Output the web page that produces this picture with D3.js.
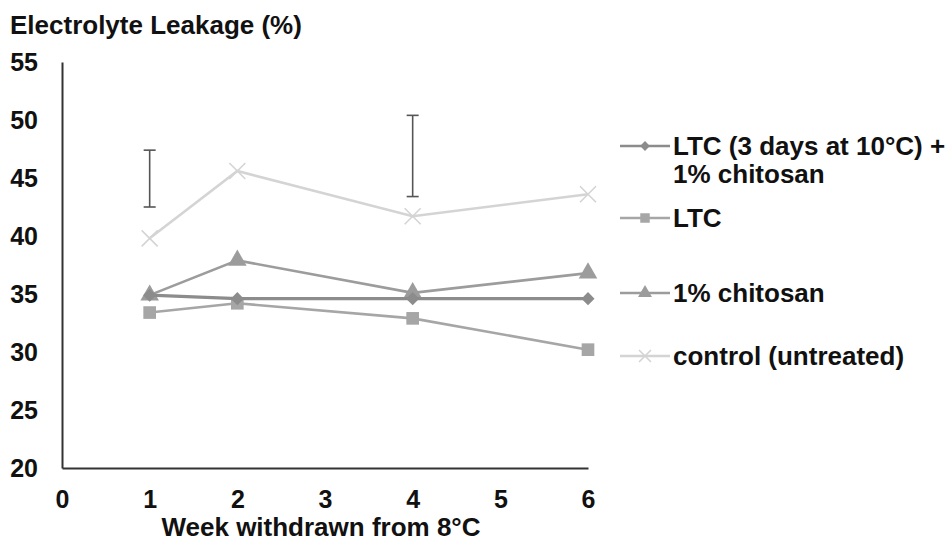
<!DOCTYPE html>
<html>
<head>
<meta charset="utf-8">
<script src="https://cdn.jsdelivr.net/npm/d3@7"></script>
<style>
  body { margin: 0; background: #fff; }
  svg text { font-family: "Liberation Sans", Arial, sans-serif; font-weight: bold; fill: #111; }
</style>
</head>
<body>
<svg id="chart" width="952" height="541"></svg>
<script>
// dati
const weeks = [1, 2, 4, 6]
const ltcChitosan = [34.9, 34.6, 34.6, 34.6]
const ltc = [33.4, 34.2, 32.9, 30.2]
const chitosan = [34.9, 37.9, 35.1, 36.8]
const control = [39.8, 45.6, 41.7, 43.6]
const errWeeks = [1, 4]
const errLow = [42.5, 43.4]
const errHigh = [47.4, 50.4]
const xTicks = [0, 1, 2, 3, 4, 5, 6]
const yTicks = [20, 25, 30, 35, 40, 45, 50, 55]

const series = [
  { name: ['LTC (3 days at 10°C) +', '1% chitosan'], values: ltcChitosan, color: '#8c8c8c', width: 3.4, symbol: 'diamond', legendY: 146 },
  { name: ['LTC'], values: ltc, color: '#a6a6a6', width: 2.6, symbol: 'square', legendY: 218 },
  { name: ['1% chitosan'], values: chitosan, color: '#9c9c9c', width: 2.6, symbol: 'triangle', legendY: 293 },
  { name: ['control (untreated)'], values: control, color: '#d4d4d4', width: 2.6, symbol: 'cross', legendY: 356 }
]

const svg = d3.select('#chart')

const xScale = d3.scaleLinear().domain([0, 6]).range([62, 588])
const yScale = d3.scaleLinear().domain([20, 55]).range([468, 62])

// assi
const xAxis = svg.append('g')
  .attr('transform', `translate(0, ${yScale(20)})`)
  .call(d3.axisBottom(xScale).tickValues(xTicks).tickFormat(d3.format('d')).tickSize(0).tickPadding(22))
xAxis.select('path.domain').attr('stroke', '#333').attr('stroke-width', 2)
xAxis.selectAll('.tick text').style('font-size', '25px')

const yAxis = svg.append('g')
  .attr('transform', `translate(${xScale(0)}, 0)`)
  .call(d3.axisLeft(yScale).tickValues(yTicks).tickFormat(d3.format('d')).tickSize(0).tickPadding(24))
yAxis.select('path.domain').attr('stroke', '#333').attr('stroke-width', 2)
yAxis.selectAll('.tick text').style('font-size', '25px')

// titoli
svg.append('text')
  .attr('x', 10).attr('y', 34)
  .style('font-size', '26px')
  .text('Electrolyte Leakage (%)')

svg.append('text')
  .attr('x', 321).attr('y', 536)
  .style('text-anchor', 'middle')
  .style('font-size', '26px')
  .text('Week withdrawn from 8°C')

// barre di errore
errWeeks.forEach((w, i) => {
  const x = xScale(w)
  const g = svg.append('g').attr('stroke', '#555').attr('stroke-width', 1.6)
  g.append('line').attr('x1', x).attr('x2', x).attr('y1', yScale(errLow[i])).attr('y2', yScale(errHigh[i]))
  g.append('line').attr('x1', x - 6).attr('x2', x + 6).attr('y1', yScale(errLow[i])).attr('y2', yScale(errLow[i]))
  g.append('line').attr('x1', x - 6).attr('x2', x + 6).attr('y1', yScale(errHigh[i])).attr('y2', yScale(errHigh[i]))
})

function drawMarker(g, s, x, y, k) {
  k = k || 1
  if (s.symbol === 'cross') {
    const r = 8 * k
    g.append('path')
      .attr('d', `M${x - r},${y - r}L${x + r},${y + r}M${x - r},${y + r}L${x + r},${y - r}`)
      .attr('stroke', s.color).attr('stroke-width', 1.6).attr('fill', 'none')
  } else if (s.symbol === 'diamond') {
    g.append('path')
      .attr('d', d3.symbol().type(d3.symbolSquare).size(85 * k * k)())
      .attr('transform', `translate(${x},${y}) rotate(45)`)
      .attr('fill', s.color)
  } else {
    const sym = s.symbol === 'square' ? d3.symbolSquare : d3.symbolTriangle
    const size = (s.symbol === 'square' ? 160 : 150) * k * k
    g.append('path')
      .attr('d', d3.symbol().type(sym).size(size)())
      .attr('transform', `translate(${x},${y})`)
      .attr('fill', s.color)
  }
}

const line = d3.line().x((d, i) => xScale(weeks[i])).y(d => yScale(d))

// serie, disegnate dal fondo
series.slice().reverse().forEach(s => {
  const g = svg.append('g')
  g.append('path')
    .datum(s.values)
    .attr('d', line)
    .attr('fill', 'none')
    .attr('stroke', s.color)
    .attr('stroke-width', s.width)
  s.values.forEach((v, i) => drawMarker(g, s, xScale(weeks[i]), yScale(v)))
})

// legenda
series.forEach(s => {
  const g = svg.append('g')
  const y = s.legendY
  g.append('line')
    .attr('x1', 620).attr('x2', 670).attr('y1', y).attr('y2', y)
    .attr('stroke', s.color).attr('stroke-width', 2.6)
  drawMarker(g, s, 645, y, 0.75)
  s.name.forEach((t, j) => {
    g.append('text')
      .attr('x', 673).attr('y', y + 9 + j * 28)
      .style('font-size', '26px')
      .text(t)
  })
})
</script>
</body>
</html>
